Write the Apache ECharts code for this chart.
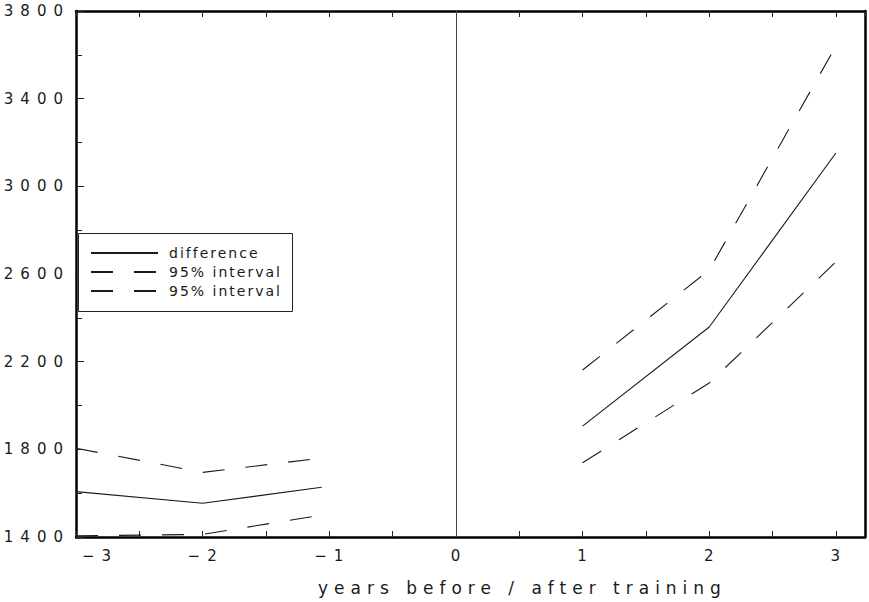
<!DOCTYPE html>
<html>
<head>
<meta charset="utf-8">
<script src="https://cdn.jsdelivr.net/npm/echarts@6/dist/echarts.min.js"></script>
<style>
  html, body { margin: 0; padding: 0; background: #fff; }
  #chart { width: 869px; height: 602px; }
  /* wide, airy lettering for the axis numbers, legend and axis title */
  #chart svg text[style*="15px"] { letter-spacing: 7px; }
  #chart svg text[style*="14px"] { letter-spacing: 2px; }
  #chart svg text[style*="17px"] { letter-spacing: 6px; }
</style>
</head>
<body>
<div id="chart"></div>
<script>
// Years relative to the training year
const preYears = [-3, -2, -1.06];
const postYears = [1, 2, 3];

// Earnings difference and its 95% interval, before and after training
const diffPre = [1607, 1554, 1627];
const diffPost = [1906, 2358, 3152];
const upperPre = [1805, 1695, 1760];
const upperPost = [2162, 2618, 3640];
const lowerPre = [1405, 1412, 1500];
const lowerPost = [1739, 2103, 2655];

// Tick labels
const xTickLabels = [-3, -2, -1, 0, 1, 2, 3];
const yTickLabels = [1400, 1800, 2200, 2600, 3000, 3400, 3800];

const axisTitle = 'years before / after training';
const FONT = "'DejaVu Sans', 'Liberation Sans', sans-serif";
const INK = '#1a1a1a';

// Pre and post segments joined with an empty point so the line breaks at 0
function joinSegments(xa, ya, xb, yb) {
  const pts = xa.map((x, i) => [x, ya[i]]);
  pts.push([0, '-']);
  return pts.concat(xb.map((x, i) => [x, yb[i]]));
}

const chart = echarts.init(document.getElementById('chart'), null, { renderer: 'svg' });

const lineSeries = (name, data, dashed) => ({
  name,
  type: 'line',
  data,
  symbol: 'none',
  showSymbol: false,
  connectNulls: false,
  silent: true,
  lineStyle: { color: INK, width: 1.1, type: dashed ? [22, 21] : 'solid' },
  itemStyle: { color: INK },
  z: 2
});

const diffSeries = lineSeries('difference', joinSegments(preYears, diffPre, postYears, diffPost), false);
diffSeries.markLine = {
  silent: true,
  symbol: 'none',
  label: { show: false },
  lineStyle: { color: '#444', width: 1, type: 'solid' },
  data: [{ xAxis: 0 }]
};

chart.setOption({
  animation: false,
  backgroundColor: '#fff',
  grid: { left: 76, right: 4, top: 11, bottom: 65, containLabel: false },
  title: {
    text: axisTitle,
    left: 318,
    top: 579,
    padding: 0,
    textStyle: { fontFamily: FONT, fontSize: 17, fontWeight: 'normal', color: INK }
  },
  legend: {
    orient: 'vertical',
    left: 90,
    top: 246,
    padding: 0,
    itemWidth: 67,
    itemHeight: 14,
    itemGap: 5,
    selectedMode: false,
    data: ['difference', 'upper interval', 'lower interval'],
    formatter: name => (name === 'difference' ? 'difference' : '95% interval'),
    itemStyle: { opacity: 0, color: 'transparent', borderWidth: 0 },
    lineStyle: { opacity: 1 },
    textStyle: { fontFamily: FONT, fontSize: 14, color: INK, padding: [0, 0, 0, 6] },
    z: 6
  },
  graphic: [{
    type: 'rect',
    z: 5,
    silent: true,
    shape: { x: 78.5, y: 233.5, width: 214, height: 78 },
    style: { fill: '#fff', stroke: '#222', lineWidth: 1 }
  }],
  xAxis: [{
    type: 'value',
    position: 'bottom',
    min: -3,
    max: 3.23,
    interval: 0.5,
    axisLine: { onZero: false, lineStyle: { color: '#000', width: 2.5 } },
    axisTick: { inside: true, length: 6, lineStyle: { color: '#222', width: 1 } },
    splitLine: { show: false },
    axisLabel: {
      margin: 11,
      padding: [0, 0, 0, 6],
      showMaxLabel: false,
      alignMinLabel: 'left',
      fontFamily: FONT,
      fontSize: 15,
      color: INK,
      formatter: v => (xTickLabels.includes(v) ? (v < 0 ? '\u2212' + Math.abs(v) : String(v)) : '')
    }
  }, {
    type: 'value',
    position: 'top',
    min: -3,
    max: 3.23,
    interval: 0.5,
    axisLine: { onZero: false, lineStyle: { color: '#000', width: 2.5 } },
    axisTick: { inside: true, length: 6, lineStyle: { color: '#222', width: 1 } },
    splitLine: { show: false },
    axisLabel: { show: false }
  }],
  yAxis: [{
    type: 'value',
    position: 'left',
    min: 1400,
    max: 3800,
    interval: 400,
    axisLine: { show: true, onZero: false, lineStyle: { color: '#000', width: 2.5 } },
    axisTick: { show: true, inside: true, length: 8, lineStyle: { color: '#222', width: 1 } },
    minorTick: { show: true, splitNumber: 2, length: 6, lineStyle: { color: '#222', width: 1 } },
    splitLine: { show: false },
    axisLabel: {
      margin: 6,
      fontFamily: FONT,
      fontSize: 15,
      color: INK,
      formatter: v => (yTickLabels.includes(v) ? String(v) : '')
    }
  }, {
    type: 'value',
    position: 'right',
    min: 1400,
    max: 3800,
    interval: 400,
    axisLine: { show: true, onZero: false, lineStyle: { color: '#000', width: 2.5 } },
    axisTick: { show: false },
    splitLine: { show: false },
    axisLabel: { show: false }
  }],
  series: [
    diffSeries,
    lineSeries('upper interval', joinSegments(preYears, upperPre, postYears, upperPost), true),
    lineSeries('lower interval', joinSegments(preYears, lowerPre, postYears, lowerPost), true)
  ]
});
</script>
</body>
</html>
